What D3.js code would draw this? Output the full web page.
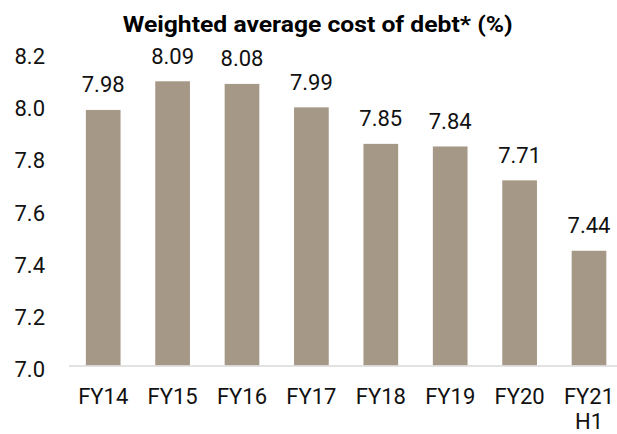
<!DOCTYPE html>
<html><head><meta charset="utf-8">
<script src="https://cdn.jsdelivr.net/npm/d3@7"></script>
<style>body{margin:0;background:#fff}svg{display:block}</style>
</head><body>
<svg id="c" width="617" height="434"></svg>
<script>
const categories = ["FY14","FY15","FY16","FY17","FY18","FY19","FY20","FY21\nH1"];
const values = [7.98,8.09,8.08,7.99,7.85,7.84,7.71,7.44];
const yTicks = [7.0,7.2,7.4,7.6,7.8,8.0,8.2];
const title = "Weighted average cost of debt* (%)";

const svg = d3.select("#c");
const font = "Roboto, 'Noto Sans', sans-serif";
const x = d3.scaleBand().domain(categories).range([68.5, 623.7]).paddingInner(0.5).paddingOuter(0.25);
const y = d3.scaleLinear().domain([7.0, 8.2]).range([365.5, 52.6]);

svg.append("text").attr("x", 317.7).attr("y", 32).attr("text-anchor","middle")
  .attr("font-family", font).attr("font-weight","bold").attr("font-size", 22.5)
  .attr("textLength", 390).attr("lengthAdjust","spacingAndGlyphs")
  .attr("fill","#000").text(title);

svg.selectAll("rect.bar").data(values).join("rect").attr("class","bar")
  .attr("x",(d,i)=>x(categories[i])).attr("width",x.bandwidth())
  .attr("y",d=>y(d)).attr("height",d=>y(7.0)-y(d)).attr("fill","#a69886");

svg.selectAll("text.val").data(values).join("text").attr("class","val")
  .attr("x",(d,i)=>x(categories[i])+x.bandwidth()/2).attr("y",d=>y(d)-17.5)
  .attr("text-anchor","middle").attr("font-family",font).attr("font-size",22).attr("fill","#111")
  .text(d=>d.toFixed(2));

const yAxis = d3.axisLeft(y).tickValues(yTicks).tickFormat(d3.format(".1f")).tickSize(0).tickPadding(0);
const ya = svg.append("g").attr("transform","translate(45,0)").call(yAxis);
ya.select(".domain").remove();
ya.selectAll("text").attr("font-family",font).attr("font-size",22).attr("fill","#111").attr("dy","0.5em");

const xAxis = d3.axisBottom(x).tickSize(0).tickFormat("");
const xa = svg.append("g").attr("transform","translate(0,365.5)").call(xAxis);
xa.select(".domain").attr("stroke","#d9d9d9").attr("stroke-width",1.5);
xa.selectAll(".tick").each(function(d){
  const t = d3.select(this).append("text").attr("font-family",font).attr("font-size",22)
    .attr("fill","#111").attr("text-anchor","middle").attr("y",38.5);
  d.split("\n").forEach((line,i)=>t.append("tspan").attr("x",0).attr("dy", i===0?0:25).text(line));
});
</script>
</body></html>
